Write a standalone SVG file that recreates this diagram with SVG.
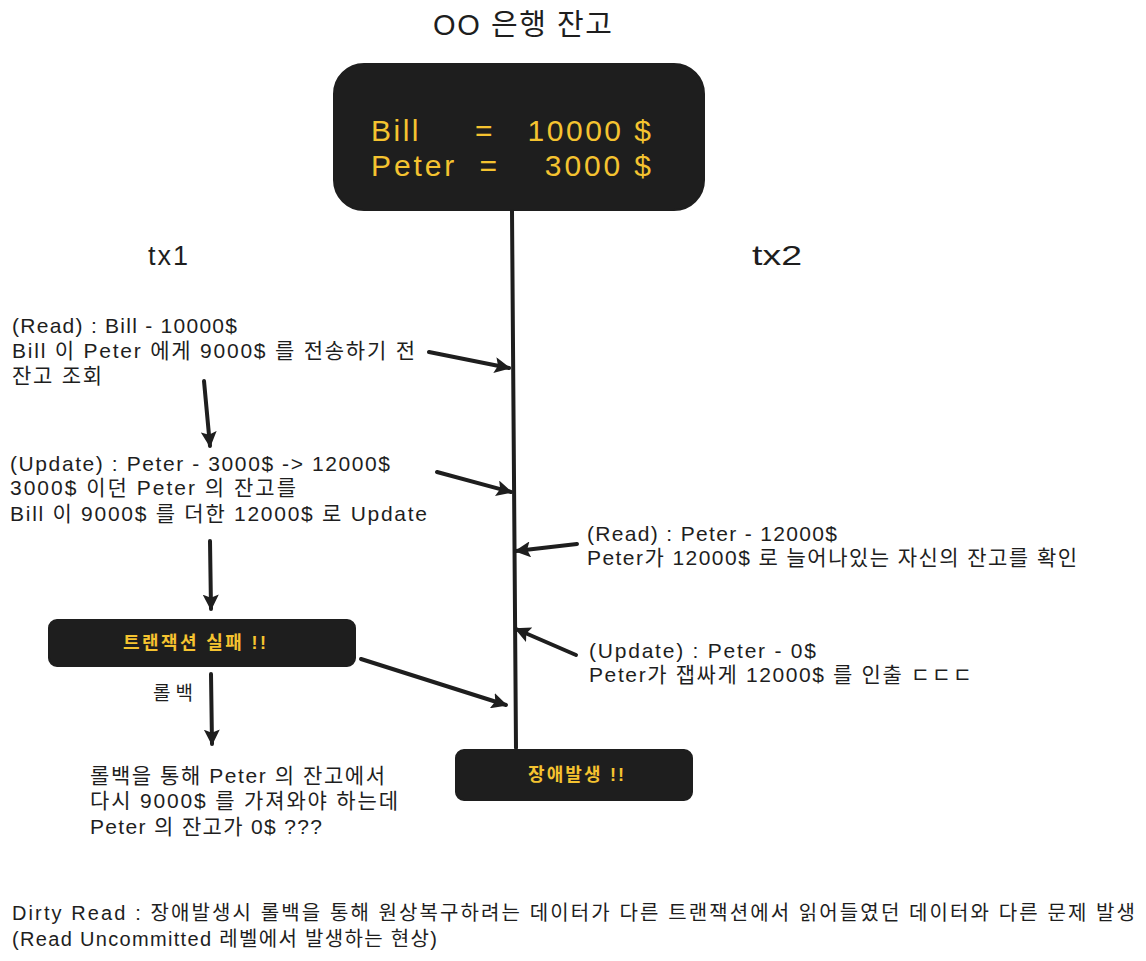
<svg xmlns="http://www.w3.org/2000/svg" width="1146" height="961" viewBox="0 0 1146 961">
<defs>
<style>
text{font-family:"Liberation Sans","Noto Sans CJK KR",sans-serif;fill:#1e1e1e}
.t{font-size:21px}
.y{fill:#f5c330}
.box{fill:#1e1e1e;stroke:#1e1e1e;stroke-width:2}
.c{stroke:#1e1e1e;stroke-width:4;fill:none;stroke-linecap:round}
</style>
<marker id="ah" viewBox="0 0 10 10" refX="9" refY="5" markerWidth="4" markerHeight="4" orient="auto" markerUnits="strokeWidth">
<path d="M0,0 L10,5 L0,10 L2,5 Z" fill="#1e1e1e"/>
</marker>
</defs>
<rect width="1146" height="961" fill="#ffffff"/>
<g id="title"><text x="433" y="35" font-size="29" textLength="179">OO 은행 잔고</text></g>
<g id="balance">
<rect class="box" x="334" y="64" width="370" height="146" rx="30"/>
<text class="y" x="371" y="141" font-size="30" xml:space="preserve" textLength="280">Bill     =   10000 $</text>
<text class="y" x="371" y="176" font-size="30" xml:space="preserve" textLength="280">Peter  =    3000 $</text>
</g>
<g id="tx1"><text x="148" y="265" font-size="27" textLength="40">tx1</text></g>
<g id="tx2"><text x="752" y="265" font-size="28" textLength="50" lengthAdjust="spacingAndGlyphs">tx2</text></g>
<g id="read1" class="t">
<text x="12" y="333" textLength="225">(Read) : Bill - 10000$</text>
<text x="12" y="358" textLength="403">Bill 이 Peter 에게 9000$ 를 전송하기 전</text>
<text x="12" y="383" textLength="90">잔고 조회</text>
</g>
<g id="update1" class="t">
<text x="10" y="471" textLength="380">(Update) : Peter - 3000$ -&gt; 12000$</text>
<text x="10" y="495" textLength="286">3000$ 이던 Peter 의 잔고를</text>
<text x="10" y="521" textLength="417">Bill 이 9000$ 를 더한 12000$ 로 Update</text>
</g>
<g id="fail">
<rect class="box" x="49" y="620" width="306" height="46" rx="8"/>
<text class="y" x="123" y="649" font-size="18" font-weight="bold" textLength="143">트랜잭션 실패 !!</text>
</g>
<g id="rollback-label"><text x="153" y="700" font-size="19" textLength="40">롤백</text></g>
<g id="rollback-text" class="t">
<text x="90" y="783" textLength="295">롤백을 통해 Peter 의 잔고에서</text>
<text x="90" y="808" textLength="308">다시 9000$ 를 가져와야 하는데</text>
<text x="90" y="834" textLength="232">Peter 의 잔고가 0$ ???</text>
</g>
<g id="error">
<rect class="box" x="456" y="750" width="236" height="50" rx="8"/>
<text class="y" x="528" y="781" font-size="18" font-weight="bold" textLength="96">장애발생 !!</text>
</g>
<g id="read2" class="t">
<text x="587" y="541" textLength="250">(Read) : Peter - 12000$</text>
<text x="587" y="565" textLength="490">Peter가 12000$ 로 늘어나있는 자신의 잔고를 확인</text>
</g>
<g id="update2" class="t">
<text x="589" y="658" textLength="227">(Update) : Peter - 0$</text>
<text x="589" y="682" textLength="383">Peter가 잽싸게 12000$ 를 인출 ㄷㄷㄷ</text>
</g>
<g id="note">
<text x="12" y="920" font-size="20" textLength="1123">Dirty Read : 장애발생시 롤백을 통해 원상복구하려는 데이터가 다른 트랜잭션에서 읽어들였던 데이터와 다른 문제 발생</text>
<text x="12" y="946" font-size="20" textLength="425">(Read Uncommitted 레벨에서 발생하는 현상)</text>
</g>
<g id="connectors">
<path class="c" d="M512,211 L516,748" stroke-width="3"/>
<path class="c" d="M429,352 L509,368" marker-end="url(#ah)"/>
<path class="c" d="M204,381 L210,446" marker-end="url(#ah)"/>
<path class="c" d="M437,472 L511,492" marker-end="url(#ah)"/>
<path class="c" d="M210,541 L211,609" marker-end="url(#ah)"/>
<path class="c" d="M211,674 L212,744" marker-end="url(#ah)"/>
<path class="c" d="M361,659 L506,705" marker-end="url(#ah)"/>
<path class="c" d="M577,544 L516,551" marker-end="url(#ah)"/>
<path class="c" d="M576,655 L516,629" marker-end="url(#ah)"/>
</g>
</svg>
